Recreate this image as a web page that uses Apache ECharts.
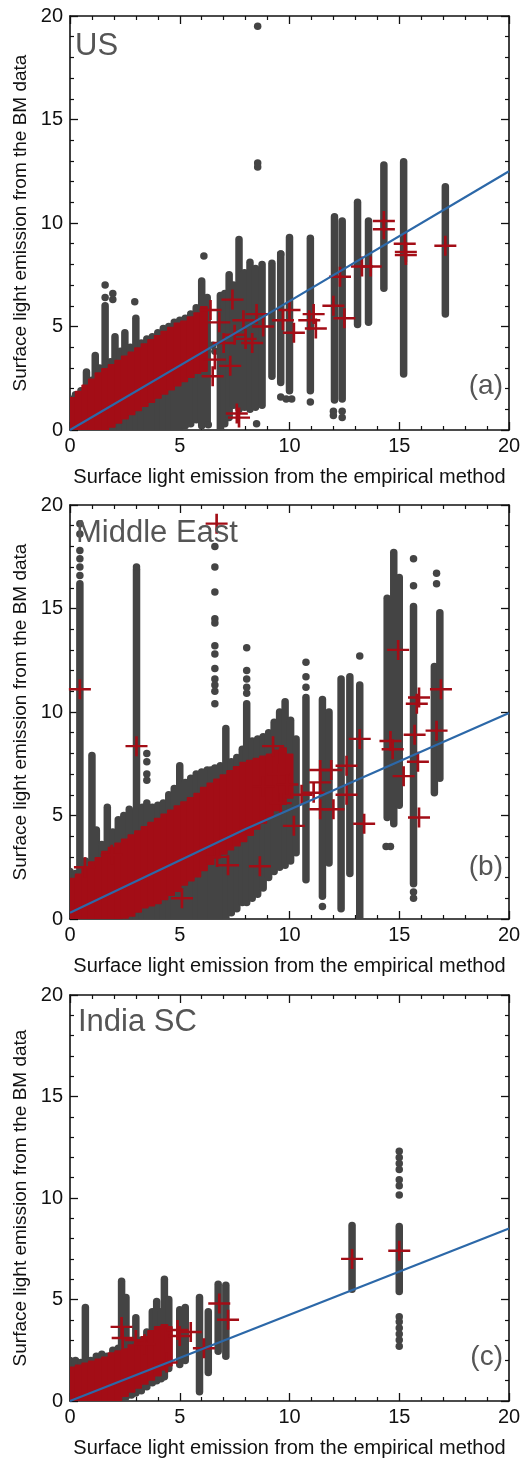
<!DOCTYPE html>
<html><head><meta charset="utf-8">
<script src="https://cdn.jsdelivr.net/npm/echarts@6/dist/echarts.min.js"></script>
<style>html,body{margin:0;padding:0;background:#fff}#c{width:528px;height:1459px}</style>
</head><body><div id="c"></div>
<script>
// ---------- DATA ----------
const panelNames = ['US', 'Middle East', 'India SC'];
const panelTags = ['(a)', '(b)', '(c)'];
const xTitle = 'Surface light emission from the empirical method';
const yTitle = 'Surface light emission from the BM data';

// gray point clouds drawn as columns: [x, yLow, yHigh]
const usColumns = [[0.0,0,1.5],[0.25,0,1.7],[0.5,0,1.9],[0.75,0,2.8],[1.0,0,2.4],[1.15,0,3.6],[1.35,0,3.0],[1.6,0,6.0],[1.85,0,3.3],[2.05,0,4.5],[2.3,0,3.8],[2.5,0,4.7],[2.75,0,4.0],[3.0,0,5.4],[3.25,0,4.2],[3.5,0,4.4],[3.75,0,4.5],[4.0,0,4.7],[4.25,0,4.9],[4.5,0,5.0],[4.75,0,5.2],[5.0,0,5.3],[5.25,0.2,5.4],[5.5,0.3,5.6],[5.75,0.5,5.9],[6.0,0.2,7.2],[6.25,0.4,6.4],[6.85,0,6.5],[7.05,0.3,6.6],[7.25,0.6,7.5],[7.45,1.2,7.0],[7.7,1.0,9.2],[7.95,1.1,7.6],[8.2,1.0,8.1],[8.45,1.1,7.8],[8.75,1.2,8.0],[9.2,2.6,8.05],[9.6,2.3,8.5],[10.0,1.9,9.3],[10.95,1.9,9.26],[12.05,1.45,10.3],[12.4,1.5,10.1],[13.1,5.1,11.0],[13.6,5.2,10.1],[14.3,6.85,12.8],[15.2,2.7,12.96],[17.1,5.6,11.75]];
const usPoints = [[8.55,19.5],[8.55,12.9],[8.55,12.7],[1.6,7.0],[1.6,6.4],[1.95,6.6],[1.95,6.3],[2.95,6.2],[6.1,8.4],[6.3,0.25],[8.5,0.3],[9.6,1.6],[9.85,1.5],[10.1,1.5],[10.95,1.35],[12.0,0.9],[12.0,0.7],[12.4,0.6],[12.4,0.9],[9.6,8.5],[6.5,4.1],[6.6,3.8]];
// dense red cross clouds drawn as columns: [x, yLow, yHigh]
const usRedBand = [[0.1,0,1.4],[0.4,0,1.7],[0.7,0,2.0],[1.0,0,2.3],[1.3,0,2.6],[1.6,0.1,2.8],[1.9,0.3,3.0],[2.2,0.5,3.2],[2.5,0.7,3.4],[2.8,0.9,3.6],[3.1,1.1,3.8],[3.4,1.3,4.0],[3.7,1.5,4.2],[4.0,1.7,4.4],[4.3,1.9,4.6],[4.6,2.1,4.8],[4.9,2.3,5.0],[5.2,2.5,5.1],[5.5,2.7,5.3],[5.8,2.9,5.5],[6.1,3.0,5.8]];
const usCrosses = [[6.4,5.8],[6.5,2.6],[6.6,3.4],[7.0,4.2],[7.3,3.1],[7.4,6.3],[7.6,0.8],[7.7,0.6],[7.5,4.6],[8.0,4.4],[8.3,4.2],[8.5,5.6],[8.8,5.0],[6.8,5.2],[7.9,5.3],[9.7,5.3],[10.0,5.8],[10.2,4.7],[10.9,5.3],[11.1,5.6],[11.2,4.9],[12.0,6.0],[12.3,7.4],[12.5,5.4],[13.3,7.9],[13.7,7.9],[14.3,10.1],[14.3,9.7],[15.25,9.0],[15.3,8.6],[15.3,8.45],[17.1,8.9]];
const usFit = [[0,0],[9,5.6],[20,12.5]];

const meColumns = [[0.0,0,2.3],[0.25,0,2.2],[0.45,0,16.2],[0.7,0,2.8],[1.0,0,7.9],[1.2,0,4.3],[1.45,0,3.6],[1.7,0,5.4],[1.95,0,4.2],[2.2,0,4.8],[2.45,0,5.0],[2.7,0,5.3],[3.03,0,16.9],[3.3,0,5.4],[3.5,0,5.6],[3.75,0,5.4],[4.0,0,5.5],[4.25,0,5.6],[4.5,0,6.0],[4.75,0,6.3],[5.0,0,7.4],[5.25,0,6.6],[5.5,0,6.8],[5.75,0,7.0],[6.0,0,7.1],[6.25,0,7.2],[6.42,0,7.2],[6.6,0,7.3],[6.85,0,7.4],[7.1,0,9.2],[7.35,0.3,7.6],[7.6,0.5,7.8],[7.85,0.8,8.2],[8.05,0.8,10.4],[8.3,1.0,8.6],[8.55,1.2,8.7],[8.8,1.5,8.8],[9.05,2.0,9.0],[9.3,2.3,9.5],[9.55,2.5,10.0],[9.8,2.6,10.5],[10.05,2.8,9.6],[10.3,3.2,8.7],[10.75,1.9,10.7],[11.5,1.1,10.6],[11.8,2.7,10.0],[12.35,0.5,11.6],[12.75,2.2,11.7],[13.2,0,11.3],[14.45,4.9,15.5],[14.75,4.6,17.7],[15.0,5.5,16.5],[15.65,1.7,15.1],[16.6,6.1,12.2],[16.85,6.8,14.8]];
const mePoints = [[0.45,16.6],[0.45,17.0],[0.45,17.4],[0.45,17.8],[0.45,18.6],[0.45,19.1],[3.03,17.0],[3.5,8.0],[3.5,7.6],[3.5,7.0],[3.5,6.7],[6.6,18.0],[6.6,17.0],[6.6,15.8],[6.6,14.5],[6.6,14.3],[6.6,13.2],[6.6,12.8],[6.6,12.1],[6.6,11.6],[6.6,11.3],[6.6,11.0],[6.6,10.4],[8.05,13.1],[8.05,12.0],[8.05,11.6],[8.05,11.2],[8.05,10.9],[10.75,11.2],[10.75,11.7],[10.75,12.4],[13.2,12.7],[14.4,3.5],[14.6,3.5],[15.65,17.4],[15.65,16.1],[16.7,16.7],[16.7,16.2],[15.65,1.3],[15.65,1.0],[11.5,0.6]];
const meRedBand = [[0.1,0,1.8],[0.4,0,2.0],[0.7,0,2.3],[1.0,0,2.6],[1.3,0,2.8],[1.6,0,3.1],[1.9,0,3.3],[2.2,0.1,3.5],[2.5,0.2,3.7],[2.8,0.3,3.9],[3.1,0.5,4.1],[3.4,0.7,4.3],[3.7,0.8,4.5],[4.0,0.9,4.7],[4.3,1.1,4.9],[4.6,1.3,5.1],[4.9,1.5,5.3],[5.2,1.8,5.5],[5.5,2.0,5.7],[5.8,2.2,5.9],[6.1,2.5,6.2],[6.4,2.8,6.4],[6.7,3.1,6.6],[7.0,3.3,6.8],[7.3,3.5,7.0],[7.6,3.7,7.2],[7.9,3.9,7.4],[8.2,4.2,7.5],[8.5,4.5,7.6],[8.8,4.8,7.7],[9.1,5.1,7.8],[9.4,5.4,8.0],[9.7,5.7,8.1],[10.0,6.0,7.8]];
const meCrosses = [[6.68,19.1],[0.45,11.1],[3.03,8.35],[0.68,2.5],[1.9,3.1],[5.1,1.0],[6.7,3.0],[7.2,2.6],[8.65,2.55],[9.25,8.35],[8.8,6.4],[9.5,7.0],[9.9,6.5],[9.6,5.6],[10.2,4.5],[10.55,6.0],[11.1,6.1],[11.4,7.2],[11.4,6.6],[11.4,5.3],[11.9,7.2],[12.0,5.3],[12.6,7.4],[12.6,6.0],[13.2,8.7],[13.4,4.6],[14.6,8.6],[14.7,8.2],[14.95,13.0],[15.2,6.9],[15.8,10.4],[15.9,10.7],[15.7,8.9],[15.85,7.6],[15.9,4.9],[16.7,9.1],[16.9,11.1]];
const meFit = [[0,0.3],[8,4.35],[20,9.95]];

const inColumns = [[0.0,0,2.0],[0.25,0,2.0],[0.5,0,1.9],[0.7,0,4.6],[0.95,0,2.0],[1.2,0,2.2],[1.45,0,2.3],[1.7,0,2.2],[1.95,0,2.5],[2.2,0,2.6],[2.35,0,5.9],[2.55,0.2,5.1],[2.8,0.3,2.8],[3.0,0.4,4.1],[3.25,0.5,3.0],[3.5,0.7,3.4],[3.75,0.9,4.4],[3.95,1.0,4.9],[4.15,1.1,4.4],[4.3,1.2,6.0],[4.5,1.6,5.0],[5.0,1.8,4.5],[5.25,2.0,4.6],[5.9,0.45,5.1],[6.3,1.4,4.4],[6.75,2.45,5.75],[7.1,2.2,5.7],[12.85,5.5,8.65],[15.0,5.4,8.6]];
const inPoints = [[15.0,12.3],[15.0,12.0],[15.0,11.7],[15.0,11.4],[15.0,10.9],[15.0,10.6],[15.0,10.15],[15.0,4.15],[15.0,3.9],[15.0,3.6],[15.0,3.3],[15.0,3.0],[15.0,2.7]];
const inRedBand = [[0.1,0,1.5],[0.4,0,1.6],[0.7,0,1.7],[1.0,0,1.8],[1.3,0,1.9],[1.6,0,2.0],[1.9,0.1,2.2],[2.2,0.2,2.3],[2.5,0.4,2.4],[2.8,0.6,2.6],[3.1,0.8,2.8],[3.4,1.0,3.0],[3.7,1.2,3.3],[4.0,1.4,3.5],[4.3,1.7,3.6],[4.5,1.9,3.5]];
const inCrosses = [[2.35,3.65],[2.4,3.1],[3.0,3.0],[3.4,2.8],[4.4,1.9],[4.9,3.5],[5.0,3.2],[5.5,3.4],[6.1,2.6],[6.8,4.8],[7.2,4.0],[12.85,7.0],[15.0,7.4]];
const inFit = [[0,0],[20,8.5]];

// ---------- CHART ----------
const GRAY = '#444444', RED = '#a30d16', BLUE = '#2c68a8', INK = '#111111';
const FONT = 'Liberation Sans, Arial, sans-serif';
const panels = [
  {cols: usColumns, pts: usPoints, band: usRedBand, cross: usCrosses, fit: usFit, top: 16},
  {cols: meColumns, pts: mePoints, band: meRedBand, cross: meCrosses, fit: meFit, top: 505},
  {cols: inColumns, pts: inPoints, band: inRedBand, cross: inCrosses, fit: inFit, top: 995}
];
const GL = 70, GW = 439, GH = 414;
const crossPath = 'path://M8.8,0H11.2V8.8H20V11.2H11.2V20H8.8V11.2H0V8.8H8.8Z';

function colRender(color, w, rr) {
  return function (params, api) {
    const p1 = api.coord([api.value(0), api.value(1)]);
    const p2 = api.coord([api.value(0), api.value(2)]);
    return {type: 'rect', shape: {x: p1[0] - w / 2, y: p2[1] - w / 2, width: w, height: p1[1] - p2[1] + w, r: rr},
      style: {fill: color}};
  };
}
const grids = [], xAxes = [], yAxes = [], series = [], graphics = [];
const tickBase = {
  min: 0, max: 20, interval: 5, type: 'value',
  axisLine: {show: true, onZero: false, lineStyle: {color: INK, width: 1.6}},
  axisTick: {show: true, inside: true, length: 8, lineStyle: {color: INK, width: 1.3}},
  minorTick: {show: true, splitNumber: 5, length: 4, lineStyle: {color: INK, width: 1.2}},
  splitLine: {show: false}, minorSplitLine: {show: false}
};
panels.forEach((p, i) => {
  grids.push({left: GL, top: p.top, width: GW, height: GH, containLabel: false});
  xAxes.push(Object.assign({}, tickBase, {gridIndex: i, position: 'bottom',
    axisLabel: {fontSize: 20, color: INK, margin: 6, fontFamily: FONT},
    name: xTitle, nameLocation: 'middle', nameGap: 37,
    nameTextStyle: {fontSize: 20, color: INK, fontFamily: FONT}}));
  xAxes.push(Object.assign({}, tickBase, {gridIndex: i, position: 'top', axisLabel: {show: false}}));
  yAxes.push(Object.assign({}, tickBase, {gridIndex: i, position: 'left',
    axisLabel: {fontSize: 20, color: INK, margin: 7, fontFamily: FONT},
    name: yTitle, nameLocation: 'middle', nameGap: 37,
    nameTextStyle: {fontSize: 19, color: INK, fontFamily: FONT}}));
  yAxes.push(Object.assign({}, tickBase, {gridIndex: i, position: 'right', axisLabel: {show: false}}));
  const ax = {xAxisIndex: 2 * i, yAxisIndex: 2 * i};
  series.push(Object.assign({type: 'custom', data: p.cols, renderItem: colRender(GRAY, 7.5, 3.75), clip: true,
    encode: {x: 0, y: [1, 2]}, z: 2, silent: true}, ax));
  series.push(Object.assign({type: 'scatter', data: p.pts, symbol: 'circle', symbolSize: 7.5,
    itemStyle: {color: GRAY, opacity: 1}, z: 3, silent: true}, ax));
  series.push(Object.assign({type: 'custom', data: p.band, renderItem: colRender(RED, 8, 1), clip: true,
    encode: {x: 0, y: [1, 2]}, z: 4, silent: true}, ax));
  series.push(Object.assign({type: 'scatter', data: p.cross, symbol: crossPath, symbolSize: [22, 20],
    itemStyle: {color: RED, opacity: 1}, z: 5, silent: true}, ax));
  series.push(Object.assign({type: 'line', data: p.fit, showSymbol: false, symbol: 'none',
    lineStyle: {color: BLUE, width: 2.2}, z: 6, silent: true, animation: false}, ax));
});
const titleY = [49, 536, 1025], titleX = [75, 76, 78];
const tagY = [388, 869, 1359];
panelNames.forEach((n, i) => {
  graphics.push({type: 'text', left: titleX[i], top: titleY[i] - 18, z: 10,
    style: {text: n, fontSize: 31, fill: '#555', fontFamily: FONT}});
  graphics.push({type: 'text', right: 528 - 503, top: tagY[i] - 16, z: 10,
    style: {text: panelTags[i], fontSize: 28, fill: '#555', fontFamily: FONT}});
});
const chart = echarts.init(document.getElementById('c'), null, {renderer: 'canvas'});
chart.setOption({animation: false, backgroundColor: '#fff', grid: grids, xAxis: xAxes, yAxis: yAxes, series: series, graphic: graphics});
</script></body></html>
